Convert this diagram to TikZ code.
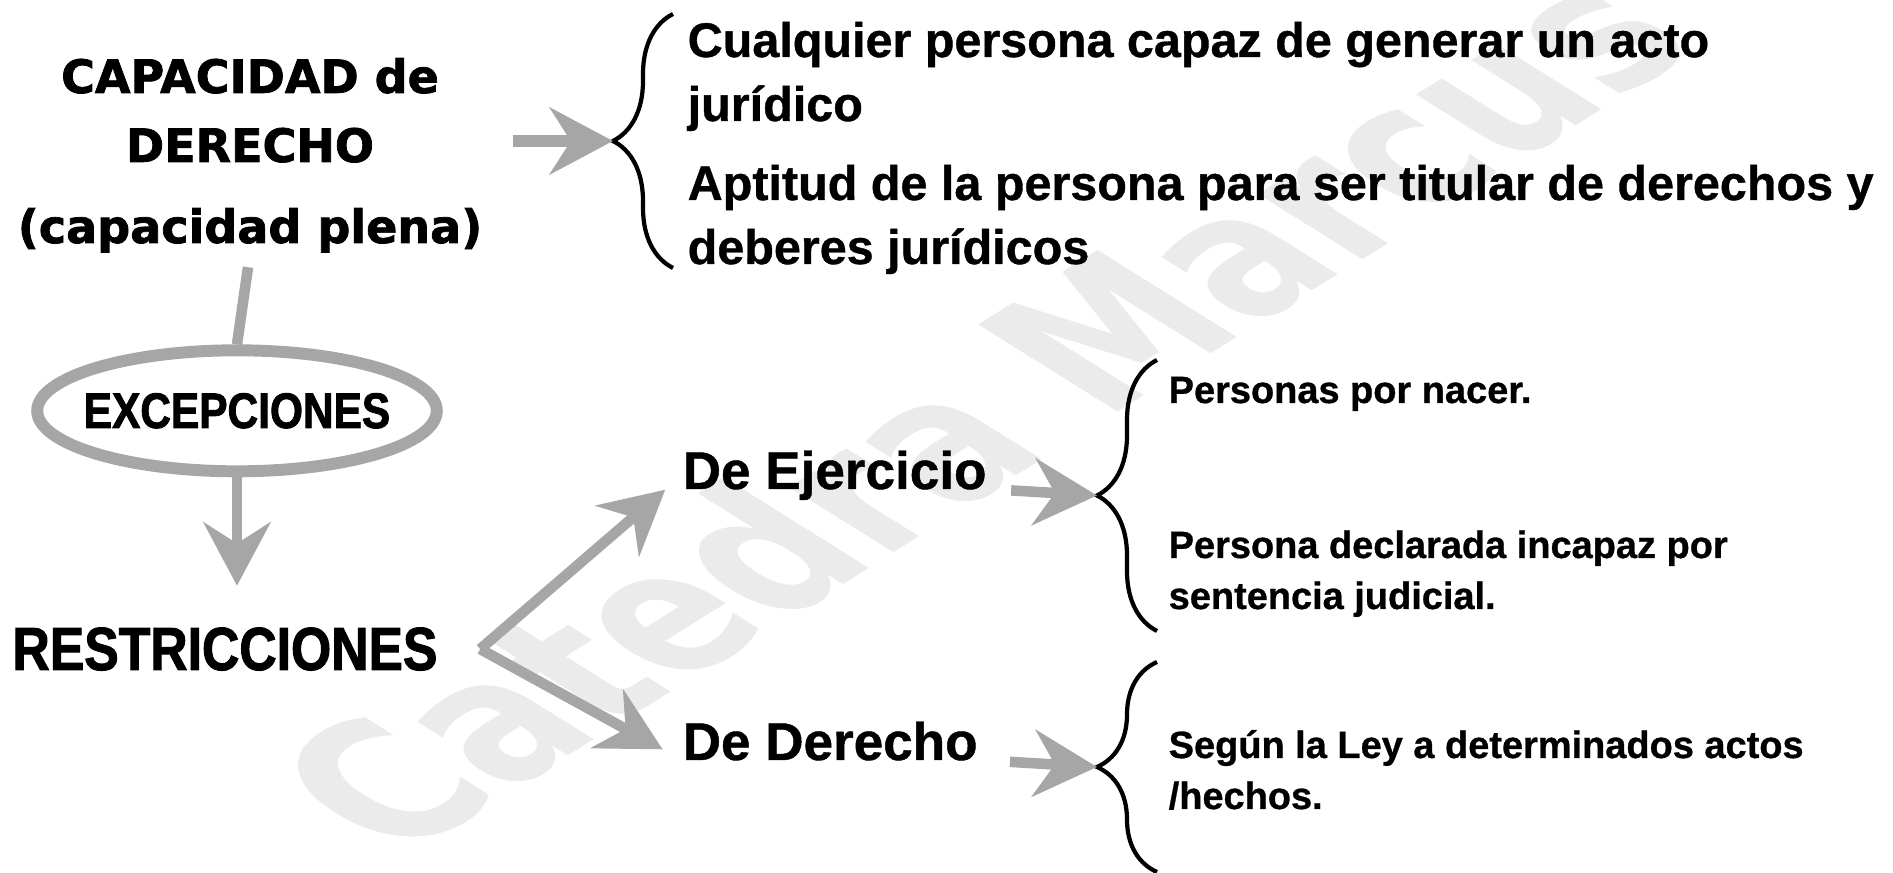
\documentclass[tikz,border=0pt]{standalone}
\usepackage{fontspec}
\setmainfont[BoldFeatures={FakeBold=0.8}]{Liberation Sans}
\newfontfamily\headfont[BoldFeatures={FakeBold=1.6}]{DejaVu Sans}
\newfontfamily\markfont{DejaVu Sans}
\newfontfamily\condfont[FakeStretch=0.85, BoldFeatures={FakeBold=1.6}]{Liberation Sans}
\usetikzlibrary{positioning,arrows.meta,decorations.pathreplacing,shapes.geometric}
\definecolor{arrowgray}{RGB}{166,166,166}
\definecolor{markgray}{RGB}{235,235,235}
\tikzset{
  grayarrow/.style={draw=arrowgray, line width=3pt, -{Stealth[length=18pt,width=19pt,inset=6pt]}},
  grayline/.style={draw=arrowgray, line width=3pt},
  bracestyle/.style={decorate, decoration={brace,amplitude=0.6cm}, line width=1.2pt},
  headtext/.style={font=\headfont\bfseries\fontsize{13.1}{15}\selectfont, inner sep=0pt, anchor=base},
  toptext/.style={font=\bfseries\fontsize{13.8}{16}\selectfont, inner sep=0pt, anchor=base west},
  subtext/.style={font=\bfseries\fontsize{10.8}{13}\selectfont, inner sep=0pt, anchor=base west},
  kindtext/.style={font=\bfseries\fontsize{15.1}{18}\selectfont, inner sep=0pt, anchor=base west}
}
\begin{document}
\begin{tikzpicture}
\useasboundingbox (0,0) rectangle (18.93,-8.73);

% watermark
\begin{scope}[xscale=1.6]
\node[rotate=45, yscale=1.3, transform shape, text=markgray, font=\markfont\bfseries\fontsize{37}{40}\selectfont] (mark) at (6.12,-4.10) {Catedra Marcus};
\end{scope}

\node[headtext] (hd1) at (2.50,-0.93) {CAPACIDAD de};
\node[headtext] (hd2) at (2.50,-1.62) {DERECHO};
\node[headtext] (hd3) at (2.50,-2.43) {(capacidad plena)};

\node[ellipse, draw=arrowgray, line width=3.4pt, inner xsep=-3.4pt, inner ysep=0pt, minimum height=1.21cm, anchor=base, font=\condfont\bfseries\fontsize{14.2}{17}\selectfont] (exc) at (2.37,-4.28) {EXCEPCIONES};
\node[inner sep=0pt, anchor=base, font=\condfont\bfseries\fontsize{17.3}{20}\selectfont] (restr) at (2.25,-6.70) {RESTRICCIONES};
\coordinate[right=0.42cm of restr] (fork);

\node[kindtext] (ejer) at (6.82,-4.89) {De Ejercicio};
\node[kindtext] (der) at (6.82,-7.60) {De Derecho};

% braces
\draw[bracestyle] (6.73,-2.68) -- (6.73,-0.14); %top
\draw[bracestyle] (11.57,-6.31) -- (11.57,-3.60); %middle
\draw[bracestyle] (11.57,-8.72) -- (11.57,-6.62); %bottom
\coordinate (tipA) at (6.13,-1.41);
\coordinate (tipB) at (10.97,-4.955);
\coordinate (tipC) at (10.97,-7.67);

\node[toptext] (cual) at (6.87,-0.57) {Cualquier persona capaz de generar un acto};
\node[toptext] (juri) at (6.87,-1.21) {jurídico};
\node[toptext] (apt) at (6.87,-2.00) {Aptitud de la persona para ser titular de derechos y};
\node[toptext] (deb) at (6.87,-2.64) {deberes jurídicos};

\node[subtext] (pers) at (11.68,-4.03) {Personas por nacer.};
\node[subtext] (decl) at (11.68,-5.58) {Persona declarada incapaz por};
\node[subtext] (sent) at (11.68,-6.09) {sentencia judicial.};
\node[subtext] (segun) at (11.68,-7.58) {Según la Ley a determinados actos};
\node[subtext] (hech) at (11.68,-8.09) {/hechos.};

% connectors
\draw[grayline, shorten <=4pt] (hd3.south) -- (exc.north);
\draw[grayarrow, shorten >=11.7pt] (exc.south) -- (exc.south |- restr.north);
\draw[grayarrow, line width=3.4pt, shorten <=20.8pt] (hd1.east |- tipA) -- (tipA);
\draw[grayarrow, shorten >=6.3pt] (fork) -- (ejer.west);
\draw[grayarrow, shorten >=6.3pt] (fork) -- (der.base west);
\draw[grayarrow, shorten <=6.8pt] (ejer.base east) -- (tipB);
\draw[grayarrow, shorten <=9pt] (der.base east) -- (tipC);

\end{tikzpicture}
\end{document}
